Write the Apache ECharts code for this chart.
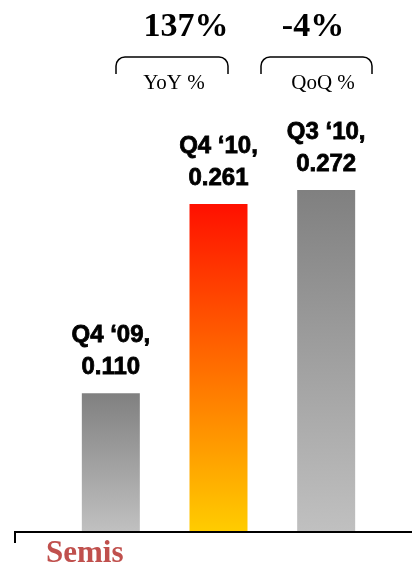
<!DOCTYPE html>
<html>
<head>
<meta charset="utf-8">
<style>
  html, body { margin: 0; padding: 0; background: #ffffff; }
  #chart { width: 412px; height: 569px; }
</style>
<script src="https://cdn.jsdelivr.net/npm/echarts@6/dist/echarts.min.js"></script>
</head>
<body>
<div id="chart"></div>
<script>
// Quarterly values for the Semis segment
const categories = ['Q4 09', 'Q4 10', 'Q3 10'];
const periodLabels = ['Q4 \u201809,', 'Q4 \u201810,', 'Q3 \u201810,'];
const values = [0.110, 0.261, 0.272];
const changeValues = ['137%', '-4%'];
const changeLabels = ['YoY %', 'QoQ %'];
const segmentName = 'Semis';

const grayFill = {
  type: 'linear', x: 0, y: 0, x2: 0, y2: 1,
  colorStops: [{ offset: 0, color: '#808080' }, { offset: 1, color: '#c0c0c0' }]
};
const hotFill = {
  type: 'linear', x: 0, y: 0, x2: 0, y2: 1,
  colorStops: [{ offset: 0, color: '#ff1000' }, { offset: 1, color: '#ffcc00' }]
};
const fills = [grayFill, hotFill, grayFill];

const chart = echarts.init(document.getElementById('chart'), null, { renderer: 'canvas' });

// Round-cornered bracket over a change figure
function bracket(x1, x2, y, drop) {
  const r = 9;
  const st = { fill: null, stroke: '#000', lineWidth: 1.5 };
  return [
    { type: 'line', shape: { x1: x1, y1: y + r, x2: x1, y2: y + drop }, style: st },
    { type: 'line', shape: { x1: x2, y1: y + r, x2: x2, y2: y + drop }, style: st },
    { type: 'line', shape: { x1: x1 + r, y1: y, x2: x2 - r, y2: y }, style: st },
    { type: 'arc', shape: { cx: x1 + r, cy: y + r, r: r, startAngle: Math.PI, endAngle: Math.PI * 1.5 }, style: st },
    { type: 'arc', shape: { cx: x2 - r, cy: y + r, r: r, startAngle: Math.PI * 1.5, endAngle: Math.PI * 2 }, style: st }
  ];
}

chart.setOption({
  animation: false,
  grid: { left: 57, right: 32, top: 155, bottom: 38 },
  xAxis: {
    type: 'category',
    data: categories,
    axisLine: { show: false },
    axisTick: { show: false },
    axisLabel: { show: false }
  },
  yAxis: {
    type: 'value',
    min: 0,
    max: 0.3,
    show: false,
    splitLine: { show: false }
  },
  series: [{
    type: 'bar',
    barWidth: 58,
    data: values.map((v, i) => ({
      value: v,
      itemStyle: { color: fills[i] },
      label: { formatter: periodLabels[i] + '\n' + v.toFixed(3) }
    })),
    label: {
      show: true,
      position: 'top',
      distance: 10,
      color: '#000',
      fontFamily: 'Liberation Sans',
      fontWeight: 'bold',
      fontSize: 24,
      lineHeight: 32,
      textBorderColor: '#000',
      textBorderWidth: 0.8,
      align: 'center'
    }
  }],
  graphic: [
    // baseline with the small left tick
    {
      type: 'polyline',
      shape: { points: [[15, 543], [15, 532], [412, 532]] },
      style: { fill: null, stroke: '#000', lineWidth: 2 }
    },
    {
      type: 'text', x: 46, y: 538,
      style: { text: segmentName, fill: '#c0504d', font: 'bold 31px "Liberation Serif"' }
    },
    {
      type: 'text', x: 186, y: 10,
      style: { text: changeValues[0], fill: '#000', font: 'bold 34px "Liberation Serif"', align: 'center' }
    },
    {
      type: 'text', x: 313, y: 10,
      style: { text: changeValues[1], fill: '#000', font: 'bold 34px "Liberation Serif"', align: 'center' }
    },
    ...bracket(116, 228, 57, 17),
    ...bracket(261, 372, 57, 17),
    {
      type: 'text', x: 174, y: 73,
      style: { text: changeLabels[0], fill: '#000', font: '21px "Liberation Serif"', align: 'center' }
    },
    {
      type: 'text', x: 323, y: 73,
      style: { text: changeLabels[1], fill: '#000', font: '21px "Liberation Serif"', align: 'center' }
    }
  ]
});
</script>
</body>
</html>
